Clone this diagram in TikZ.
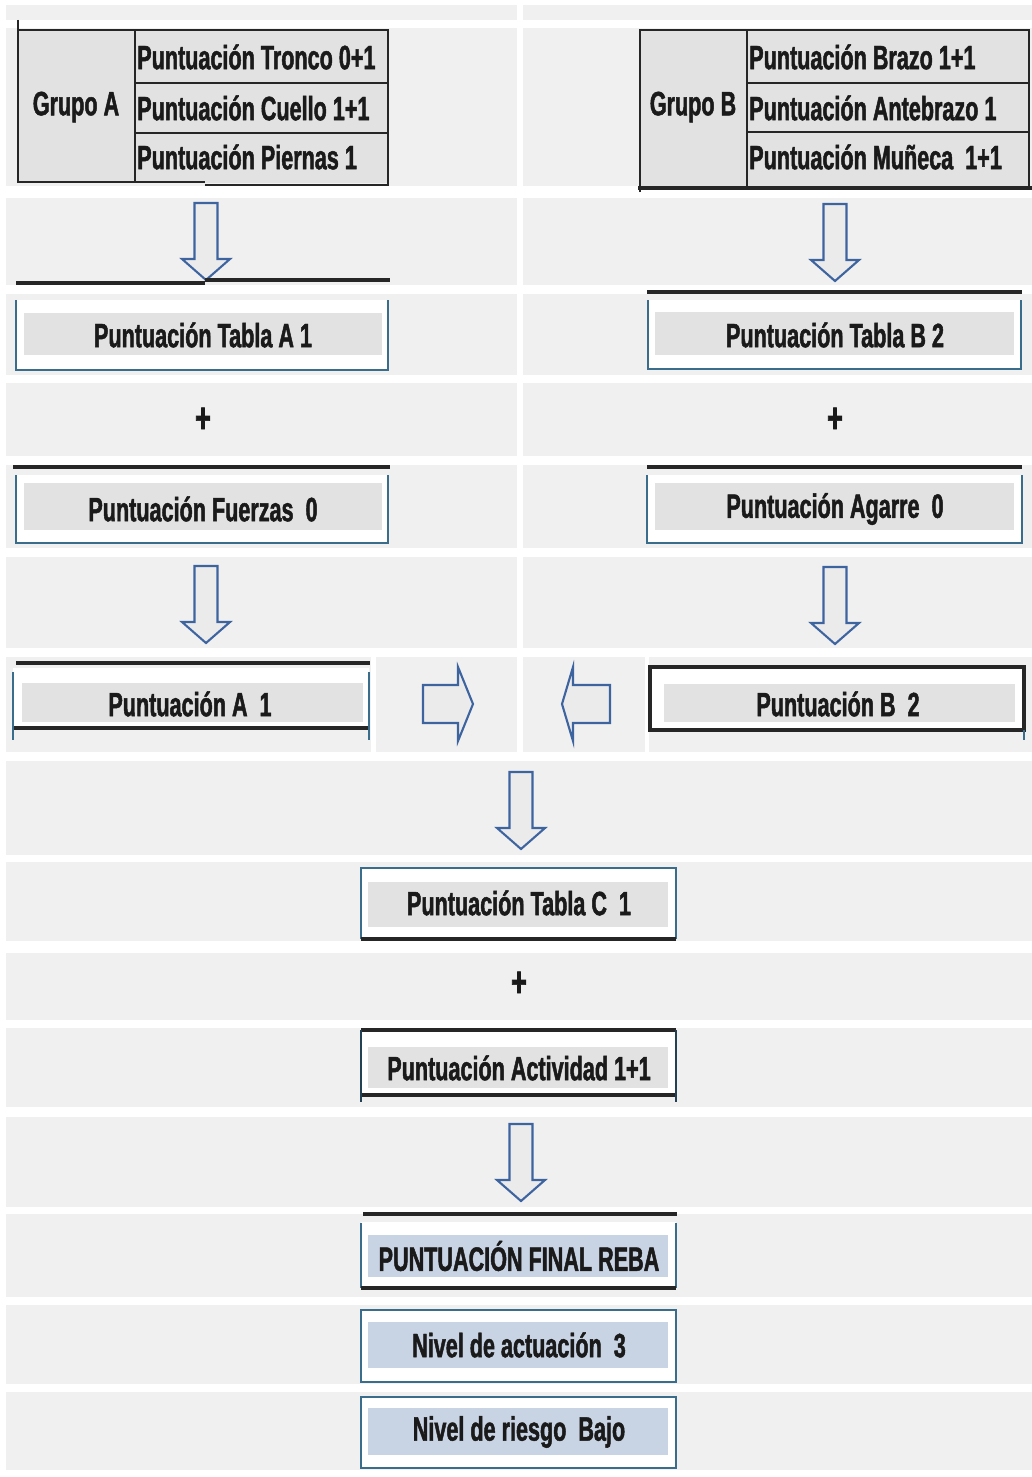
\documentclass[tikz,border=0pt]{standalone}
\usepackage{fontspec}
\newfontfamily\boxfont{Liberation Sans}[FakeStretch=0.64, BoldFeatures={FakeBold=1.4}]
\definecolor{bandgray}{HTML}{F0F0F0}
\definecolor{cellgray}{HTML}{E2E2E2}
\definecolor{cellblue}{HTML}{C8D4E4}
\definecolor{edgeblue}{HTML}{3A6D8C}
\definecolor{arrowblue}{HTML}{3E64A0}
\definecolor{arrowfill}{HTML}{EBEBEB}
\definecolor{inkdark}{HTML}{1A1A1A}

\tikzset{
  boxtext/.style={font=\boxfont\bfseries\fontsize{24}{28}\selectfont, text=inkdark, inner sep=0pt},
  plustext/.style={font=\boxfont\bfseries\fontsize{30}{32}\selectfont, text=inkdark, inner sep=0pt},
  rule/.style={draw=black!85, line width=2.2pt},
  blueedge/.style={draw=edgeblue, line width=1.5pt},
  gridline/.style={draw=black!85, line width=1.8pt},
  blockarrow/.style={draw=arrowblue, fill=arrowfill, line width=1.5pt, line join=miter},
  pics/blockdown/.style={code={
    \draw[blockarrow]
      (-11.5,0) -- (11.5,0) -- (11.5,56) -- (24,56) -- (0,77) -- (-24,56) -- (-11.5,56) -- cycle;
  }},
}

\begin{document}
\begin{tikzpicture}[x=0.25mm, y=-0.25mm]
% page
\useasboundingbox (0,0) rectangle (1032,1477);
\fill[white] (0,0) rectangle (1032,1477);

% sheet rows
\foreach \ya/\yb in {5/20, 28/186, 198/285, 294/375, 383/456, 465/548, 557/648, 657/752,
                     761/855, 862/941, 953/1020, 1028/1107, 1117/1207, 1214/1297, 1305/1384, 1392/1470}
  \fill[bandgray] (6,\ya) rectangle (1032,\yb);
% column gaps
\fill[white] (517,0) rectangle (523,753);
\fill[white] (371,657) rectangle (376,752);
\fill[white] (645,657) rectangle (649,752);

% ---------- Grupo A ----------
\fill[cellgray] (18,30) rectangle (388,183);
\node[boxtext] (grpA) at (76,107) {Grupo A};
\node[boxtext, anchor=west] (tronco) at (137,57) {Puntuación Tronco 0+1};
\node[boxtext, anchor=west] (cuello) at (137,108) {Puntuación Cuello 1+1};
\node[boxtext, anchor=west] (piernas) at (137,157) {Puntuación Piernas 1};
\draw[gridline] (18,20) -- (18,182) -- (205,182);
\draw[gridline] (205,185) -- (388,185) -- (388,30) -- (18,30);
\draw[gridline] (135,30) -- (135,183);
\draw[gridline] (135,83) -- (388,83);
\draw[gridline] (135,133) -- (388,133);

% ---------- Grupo B ----------
\fill[cellgray] (640,30) rectangle (1029,188);
\node[boxtext] (grpB) at (693,107) {Grupo B};
\node[boxtext, anchor=west] (brazo) at (749,57) {Puntuación Brazo 1+1};
\node[boxtext, anchor=west] (antebrazo) at (749,108) {Puntuación Antebrazo 1};
\node[boxtext, anchor=west] (muneca) at (749,157) {Puntuación Muñeca\ \ 1+1};
\draw[gridline] (640,192) -- (640,30) -- (1029,30) -- (1029,188);
\draw[rule] (638,188) -- (1032,188);
\draw[gridline] (747,30) -- (747,188);
\draw[gridline] (747,83) -- (1029,83);
\draw[gridline] (747,132) -- (1029,132);

% ---------- first arrows ----------
\pic at (206,203) {blockdown};
\pic at (835,204) {blockdown};

% ---------- Tabla A / Tabla B ----------
\draw[rule] (16,283) -- (205,283);
\draw[rule] (205,280) -- (390,280);
\fill[white] (16,300) rectangle (388,370);
\fill[cellgray] (24,313) rectangle (382,355);
\draw[blueedge] (16,300) -- (16,370) -- (388,370) -- (388,300);
\node[boxtext] (tablaA) at (203,335) {Puntuación Tabla A 1};

\draw[rule] (647,292) -- (1022,292);
\fill[white] (648,300) rectangle (1021,369);
\fill[cellgray] (655,312) rectangle (1014,355);
\draw[blueedge] (648,300) -- (648,369) -- (1021,369) -- (1021,300);
\node[boxtext] (tablaB) at (835,335) {Puntuación Tabla B 2};

% plus signs
\node[plustext] (plusA) at (203,420) {+};
\node[plustext] (plusB) at (835,420) {+};

% ---------- Fuerzas / Agarre ----------
\draw[rule] (13,467) -- (390,467);
\fill[white] (16,475) rectangle (388,543);
\fill[cellgray] (24,483) rectangle (382,530);
\draw[blueedge] (16,475) -- (16,543) -- (388,543) -- (388,475);
\node[boxtext] (fuerzas) at (203,509) {Puntuación Fuerzas\ \ 0};

\draw[rule] (647,467) -- (1022,467);
\fill[white] (647,475) rectangle (1022,543);
\fill[cellgray] (655,483) rectangle (1014,530);
\draw[blueedge] (647,475) -- (647,543) -- (1022,543) -- (1022,475);
\node[boxtext] (agarre) at (835,509) {Puntuación Agarre\ \ 0};

% ---------- second arrows ----------
\pic at (206,566) {blockdown};
\pic at (835,567) {blockdown};

% ---------- Puntuación A / B ----------
\fill[white] (13,668) rectangle (369,728);
\fill[cellgray] (22,683) rectangle (363,722);
\draw[rule] (16,663) -- (370,663);
\draw[rule] (13,728) -- (370,728);
\draw[blueedge] (13,672) -- (13,740);
\draw[blueedge] (369,672) -- (369,740);
\node[boxtext] (puntA) at (190,704) {Puntuación A\ \ 1};

\fill[white] (650,667) rectangle (1024,730);
\fill[cellgray] (664,684) rectangle (1015,722);
\draw[rule] (650,667) rectangle (1024,730);
\draw[blueedge] (1024,730) -- (1024,740);
\node[boxtext] (puntB) at (838,704) {Puntuación B\ \ 2};

% side arrows towards the centre
\draw[blockarrow] (423,685) -- (458,685) -- (458,667) -- (473,704) -- (458,741) -- (458,723) -- (423,723) -- cycle;
\draw[blockarrow] (610,685) -- (573,685) -- (573,667) -- (562,704) -- (573,741) -- (573,723) -- (610,723) -- cycle;

% ---------- Tabla C ----------
\pic at (521,772) {blockdown};
\fill[white] (361,868) rectangle (676,939);
\fill[cellgray] (368,882) rectangle (668,927);
\draw[blueedge] (361,939) -- (361,868) -- (676,868) -- (676,939);
\draw[rule] (361,939) -- (676,939);
\node[boxtext] (tablaC) at (519,903) {Puntuación Tabla C\ \ 1};

\node[plustext] (plusC) at (519,984) {+};

% ---------- Actividad ----------
\fill[white] (361,1030) rectangle (676,1095);
\fill[cellgray] (368,1047) rectangle (668,1088);
\draw[rule] (361,1030) -- (676,1030);
\draw[rule] (361,1095) -- (676,1095);
\draw[blueedge, draw=edgeblue!60!black] (361,1030) -- (361,1102);
\draw[blueedge, draw=edgeblue!60!black] (676,1030) -- (676,1102);
\node[boxtext] (actividad) at (519,1068) {Puntuación Actividad 1+1};

% ---------- final score ----------
\pic at (521,1124) {blockdown};
\draw[rule] (363,1214) -- (677,1214);
\fill[white] (361,1222) rectangle (676,1288);
\fill[cellblue] (368,1235) rectangle (668,1277);
\draw[blueedge] (361,1288) -- (361,1223);
\draw[blueedge] (676,1288) -- (676,1223);
\draw[rule] (361,1288) -- (676,1288);
\node[boxtext] (final) at (519,1256) {PUNTUACIÓN FINAL REBA};

\fill[white] (361,1310) rectangle (676,1382);
\fill[cellblue] (368,1322) rectangle (668,1368);
\draw[blueedge] (361,1310) rectangle (676,1382);
\node[boxtext] (actuacion) at (519,1345) {Nivel de actuación\ \ 3};

\fill[white] (361,1397) rectangle (676,1468);
\fill[cellblue] (368,1408) rectangle (668,1455);
\draw[blueedge] (361,1397) rectangle (676,1468);
\node[boxtext] (riesgo) at (519,1432) {Nivel de riesgo\ \ Bajo};
\end{tikzpicture}
\end{document}
